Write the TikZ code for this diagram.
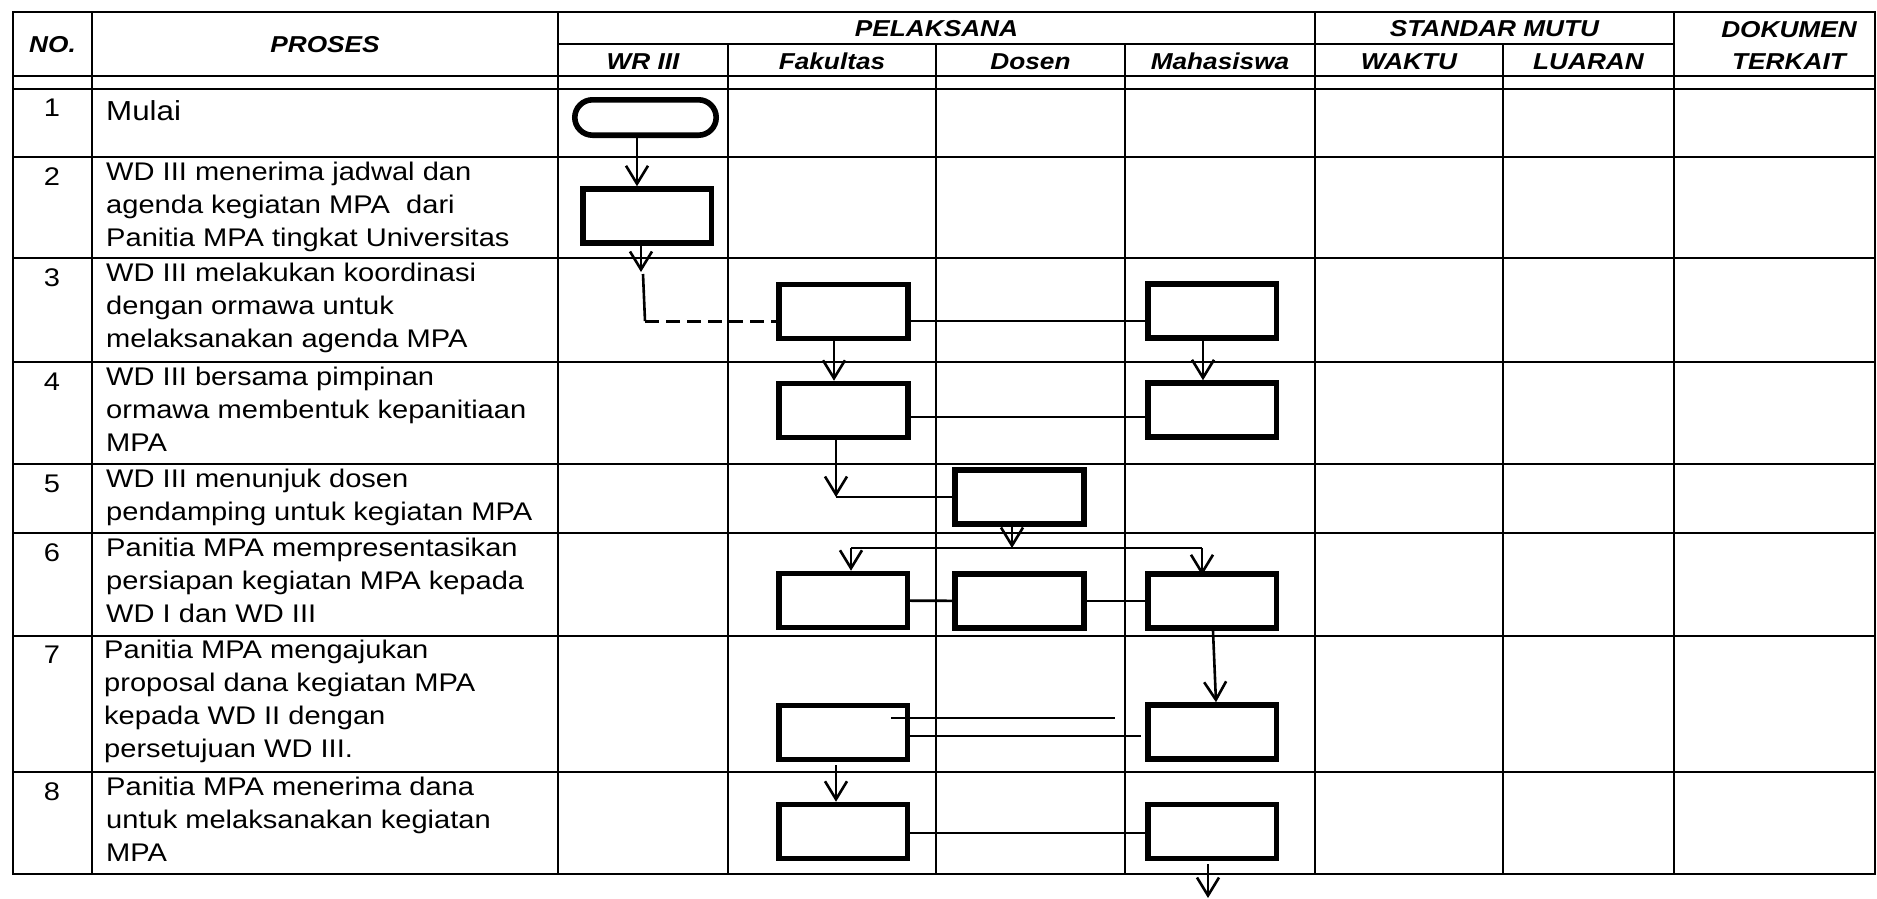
\documentclass[tikz,border=0pt]{standalone}
\usepackage{fontspec}
\setmainfont{Liberation Sans}[FakeStretch=1.14]
\usetikzlibrary{arrows.meta,calc,positioning}

\newcommand\bodyfont{\fontsize{25.5}{33}\selectfont}
\newcommand\headfont{\fontsize{23}{27}\selectfont\bfseries\itshape}

\begin{document}
\begin{tikzpicture}[x=1pt,y=-1pt,>={Straight Barb[length=18pt,width=22pt]},
      table line/.style={line width=2.6pt},
      conn/.style={line width=2.6pt},
      arr/.style={->,line width=2.6pt},
      dashed line/.style={line width=3pt,dash pattern=on 14pt off 7pt},
      main node/.style={rectangle,draw,line width=5.6pt,inner sep=0pt,
          minimum width=128.6pt,minimum height=53.9pt},
      start node/.style={rectangle,draw,line width=5.6pt,rounded corners=17.7pt,
          inner sep=0pt,minimum width=141.4pt,minimum height=35.4pt},
      head node/.style={anchor=base,inner sep=0pt,font=\headfont},
      num node/.style={anchor=base,inner sep=0pt,font=\bodyfont},
      text node/.style={anchor=north west,align=left,inner sep=0pt,
          font=\bodyfont,execute at begin node=\strut}]

    \useasboundingbox (0,0) rectangle (1877,899);

    % table frame
    \draw[table line] (13,12) rectangle (1875,874);
    \draw[table line] (558,44) -- (1674,44);
    \draw[table line] (13,76) -- (1875,76);
    \draw[table line] (13,89) -- (1875,89);
    \draw[table line] (13,157) -- (1875,157);
    \draw[table line] (13,258) -- (1875,258);
    \draw[table line] (13,362) -- (1875,362);
    \draw[table line] (13,464) -- (1875,464);
    \draw[table line] (13,533) -- (1875,533);
    \draw[table line] (13,636) -- (1875,636);
    \draw[table line] (13,772) -- (1875,772);
    \draw[table line] (92,12) -- (92,874);
    \draw[table line] (558,12) -- (558,874);
    \draw[table line] (728,44) -- (728,874);
    \draw[table line] (936,44) -- (936,874);
    \draw[table line] (1125,44) -- (1125,874);
    \draw[table line] (1315,12) -- (1315,874);
    \draw[table line] (1503,44) -- (1503,874);
    \draw[table line] (1674,12) -- (1674,874);

    % header
    \node[head node] (hno) at (52.5,53) {NO.};
    \node[head node] (hpr) at (325,53) {PROSES};
    \node[head node] (hpl) at (936.5,37) {PELAKSANA};
    \node[head node] (hwr) at (643,70) {WR III};
    \node[head node] (hfk) at (832,70) {Fakultas};
    \node[head node] (hds) at (1030.5,70) {Dosen};
    \node[head node] (hms) at (1220,70) {Mahasiswa};
    \node[head node] (hsm) at (1494.5,37) {STANDAR MUTU};
    \node[head node] (hwk) at (1409,70) {WAKTU};
    \node[head node] (hlu) at (1588.5,70) {LUARAN};
    \node[head node] (hdk) at (1789,38) {DOKUMEN};
    \node[head node] (htk) at (1789,70) {TERKAIT};

    % steps
    \node[num node] (n1) at (52,117) {1};
    \node[text node,font=\fontsize{27.5}{33}\selectfont] (t1) at (106,96.9) {Mulai};
    \node[num node] (n2) at (52,185) {2};
    \node[text node] (t2) at (106,161.9) {WD III menerima jadwal dan\\agenda kegiatan MPA\ \ dari\\Panitia MPA tingkat Universitas};
    \node[num node] (n3) at (52,286) {3};
    \node[text node] (t3) at (106,262.9) {WD III melakukan koordinasi\\dengan ormawa untuk\\melaksanakan agenda MPA};
    \node[num node] (n4) at (52,390) {4};
    \node[text node] (t4) at (106,366.9) {WD III bersama pimpinan\\ormawa membentuk kepanitiaan\\MPA};
    \node[num node] (n5) at (52,492) {5};
    \node[text node] (t5) at (106,468.9) {WD III menunjuk dosen\\pendamping untuk kegiatan MPA};
    \node[num node] (n6) at (52,561) {6};
    \node[text node] (t6) at (106,537.9) {Panitia MPA mempresentasikan\\persiapan kegiatan MPA kepada\\WD I dan WD III};
    \node[num node] (n7) at (52,663) {7};
    \node[text node] (t7) at (104,639.9) {Panitia MPA mengajukan\\proposal dana kegiatan MPA\\kepada WD II dengan\\persetujuan WD III.};
    \node[num node] (n8) at (52,800) {8};
    \node[text node] (t8) at (106,776.9) {Panitia MPA menerima dana\\untuk melaksanakan kegiatan\\MPA};

    % flow boxes
    \node[start node] (st1) at (645.5,117.5) {};
    \node[main node] (wr2) at (647,216) {};
    \node[main node] (fk3) at (843.5,311.5) {};
    \node[main node] (ms3) at (1212,311) {};
    \node[main node] (fk4) at (843.5,410.5) {};
    \node[main node] (ms4) at (1212,410) {};
    \node[main node] (ds5) at (1019.5,497) {};
    \node[main node] (fk6) at (843,600.5) {};
    \node[main node] (ds6) at (1019.5,601) {};
    \node[main node] (ms6) at (1212,601) {};
    \node[main node] (fk7) at (843,732.5) {};
    \node[main node] (ms7) at (1212,732) {};
    \node[main node] (fk8) at (843,831.5) {};
    \node[main node] (ms8) at (1212,831.5) {};

    \coordinate (k2) at (641,272);
    \coordinate (k3) at (643,274);
    \coordinate (k3b) at (645,321);
    \coordinate (k5) at (836,497);
    \coordinate (k6) at (1012,548);
    \coordinate (k6a) at (851,548);
    \coordinate (k6b) at (1202,548);
    \coordinate (p7a) at (891,718);
    \coordinate (p7b) at (1115,718);
    \coordinate (k9) at (1208,898);

    % connectors
    \draw[arr] ($(st1.south)+(-8.5,0)$) -- ($(wr2.north)+(-10,0)$);
    \draw[arr] (wr2.south -| k2) -- (k2);
    \draw[conn] (k3) -- (k3b);
    \draw[dashed line] (k3b) -- (k3b -| fk3.west);
    \draw[conn] ($(fk3.east)+(0,9.5)$) -- ($(ms3.west)+(0,10)$);
    \draw[arr] ($(fk3.south)+(-9.5,0)$) -- ($(fk4.north)+(-9.5,0)$);
    \draw[arr] ($(ms3.south)+(-9,0)$) -- ($(ms4.north)+(-9,0)$);
    \draw[conn] ($(fk4.east)+(0,6.5)$) -- ($(ms4.west)+(0,7)$);
    \draw[arr] (fk4.south -| k5) -- (k5);
    \draw[conn] (ds5.west) -- (k5);
    \draw[arr] (ds5.south -| k6) -- (k6);
    \draw[conn] (k6a) -- (k6b);
    \draw[arr] (k6a) -- (k6a |- fk6.north);
    \draw[arr] (k6b) -- ($(k6b |- ms6.north)+(0,4)$);
    \draw[conn] (fk6) -- (ds6);
    \draw[conn] (ds6) -- (ms6);
    \draw[arr] ($(ms6.south)+(1,0)$) -- ($(ms7.north)+(4,0)$);
    \draw[conn] (p7a) -- (p7b);
    \draw[conn] ($(fk7.east)+(0,3.5)$) -- ($(ms7.west)+(-4,4)$);
    \draw[arr] ($(fk7.south)+(-7,3)$) -- ($(fk8.north)+(-7,0)$);
    \draw[conn] ($(fk8.east)+(0,1.5)$) -- ($(ms8.west)+(0,1.5)$);
    \draw[arr] ($(ms8.south)+(-4,3)$) -- (k9);

  \end{tikzpicture}
\end{document}
